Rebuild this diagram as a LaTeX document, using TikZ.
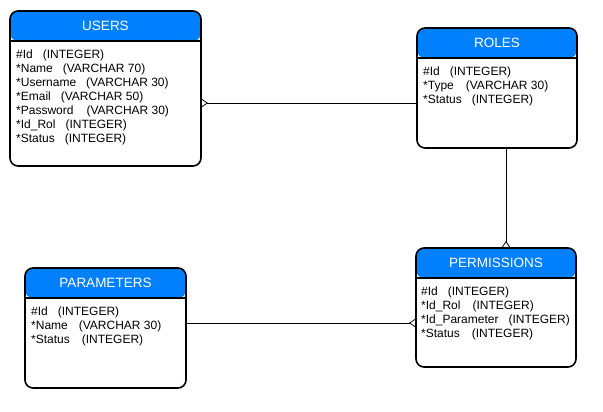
\documentclass[tikz,border=0pt]{standalone}
\usepackage{fontspec}
\setmainfont{Liberation Sans}
\usetikzlibrary{arrows.meta}

\definecolor{headblue}{RGB}{0,128,255}
\newcommand{\fgap}{\hspace{10pt}}

\begin{document}
\begin{tikzpicture}[x=1pt, y=-1pt,
    entity/.style={draw=black, line width=1.6pt, rounded corners=8pt, fill=white,
        inner sep=0pt, outer sep=0pt, anchor=north west,
        path picture={
            \fill[headblue] (path picture bounding box.north west) rectangle ([yshift=-30pt]path picture bounding box.north east);
            \draw[line width=1.6pt] ([yshift=-30pt]path picture bounding box.north west) -- ([yshift=-30pt]path picture bounding box.north east);
        }},
    title/.style={text=white, font=\fontsize{13.5}{15}\selectfont},
    fields/.style={anchor=north west, align=left, inner sep=0pt, font=\fontsize{12}{14}\selectfont},
    onemany/.style={line width=0.8pt, -{Straight Barb[reversed, length=6pt, width=8pt, line width=0.8pt]}}
]
    \useasboundingbox (0,0) rectangle (603,412);

    % Draw the four tables
    \node[entity, minimum width=191pt, minimum height=155pt] (users) at (10,11) {};
    \node[entity, minimum width=160pt, minimum height=120pt] (roles) at (417,28) {};
    \node[entity, minimum width=160pt, minimum height=119pt] (permissions) at (416,248) {};
    \node[entity, minimum width=161pt, minimum height=120pt] (parameters) at (25,268) {};

    % Table names in the blue headers
    \node[title] (users title) at ([yshift=-15pt]users.north) {USERS};
    \node[title] (roles title) at ([yshift=-15pt]roles.north) {ROLES};
    \node[title] (permissions title) at ([yshift=-15pt]permissions.north) {PERMISSIONS};
    \node[title] (parameters title) at ([yshift=-15pt]parameters.north) {PARAMETERS};

    % Columns of each table
    \node[fields] (users fields) at ([shift={(6pt,-39pt)}]users.north west) {
        \#Id\fgap(INTEGER)\\
        *Name\fgap(VARCHAR 70)\\
        *Username\fgap(VARCHAR 30)\\
        *Email\fgap(VARCHAR 50)\\
        *Password\fgap\hspace{3pt}(VARCHAR 30)\\
        *Id\_Rol\fgap(INTEGER)\\
        *Status\fgap(INTEGER)};
    \node[fields] (roles fields) at ([shift={(6pt,-39pt)}]roles.north west) {
        \#Id\fgap(INTEGER)\\
        *Type\fgap\hspace{2pt}(VARCHAR 30)\\
        *Status\fgap(INTEGER)};
    \node[fields] (permissions fields) at ([shift={(5pt,-39pt)}]permissions.north west) {
        \#Id\fgap(INTEGER)\\
        *Id\_Rol\fgap\hspace{2pt}(INTEGER)\\
        *Id\_Parameter\fgap(INTEGER)\\
        *Status\fgap\hspace{2pt}(INTEGER)};
    \node[fields] (parameters fields) at ([shift={(6pt,-39pt)}]parameters.north west) {
        \#Id\fgap(INTEGER)\\
        *Name\fgap\hspace{1pt}(VARCHAR 30)\\
        *Status\fgap\hspace{2pt}(INTEGER)};

    % Relations, crow's foot on the many side
    \draw[onemany] ([yshift=-15pt]roles.west) -- ([yshift=-14.5pt]users.east);
    \draw[onemany] ([xshift=9pt]roles.south) -- ([xshift=10pt]permissions.north);
    \draw[onemany] ([yshift=5pt]parameters.east) -- ([yshift=-15.5pt]permissions.west);
\end{tikzpicture}
\end{document}
